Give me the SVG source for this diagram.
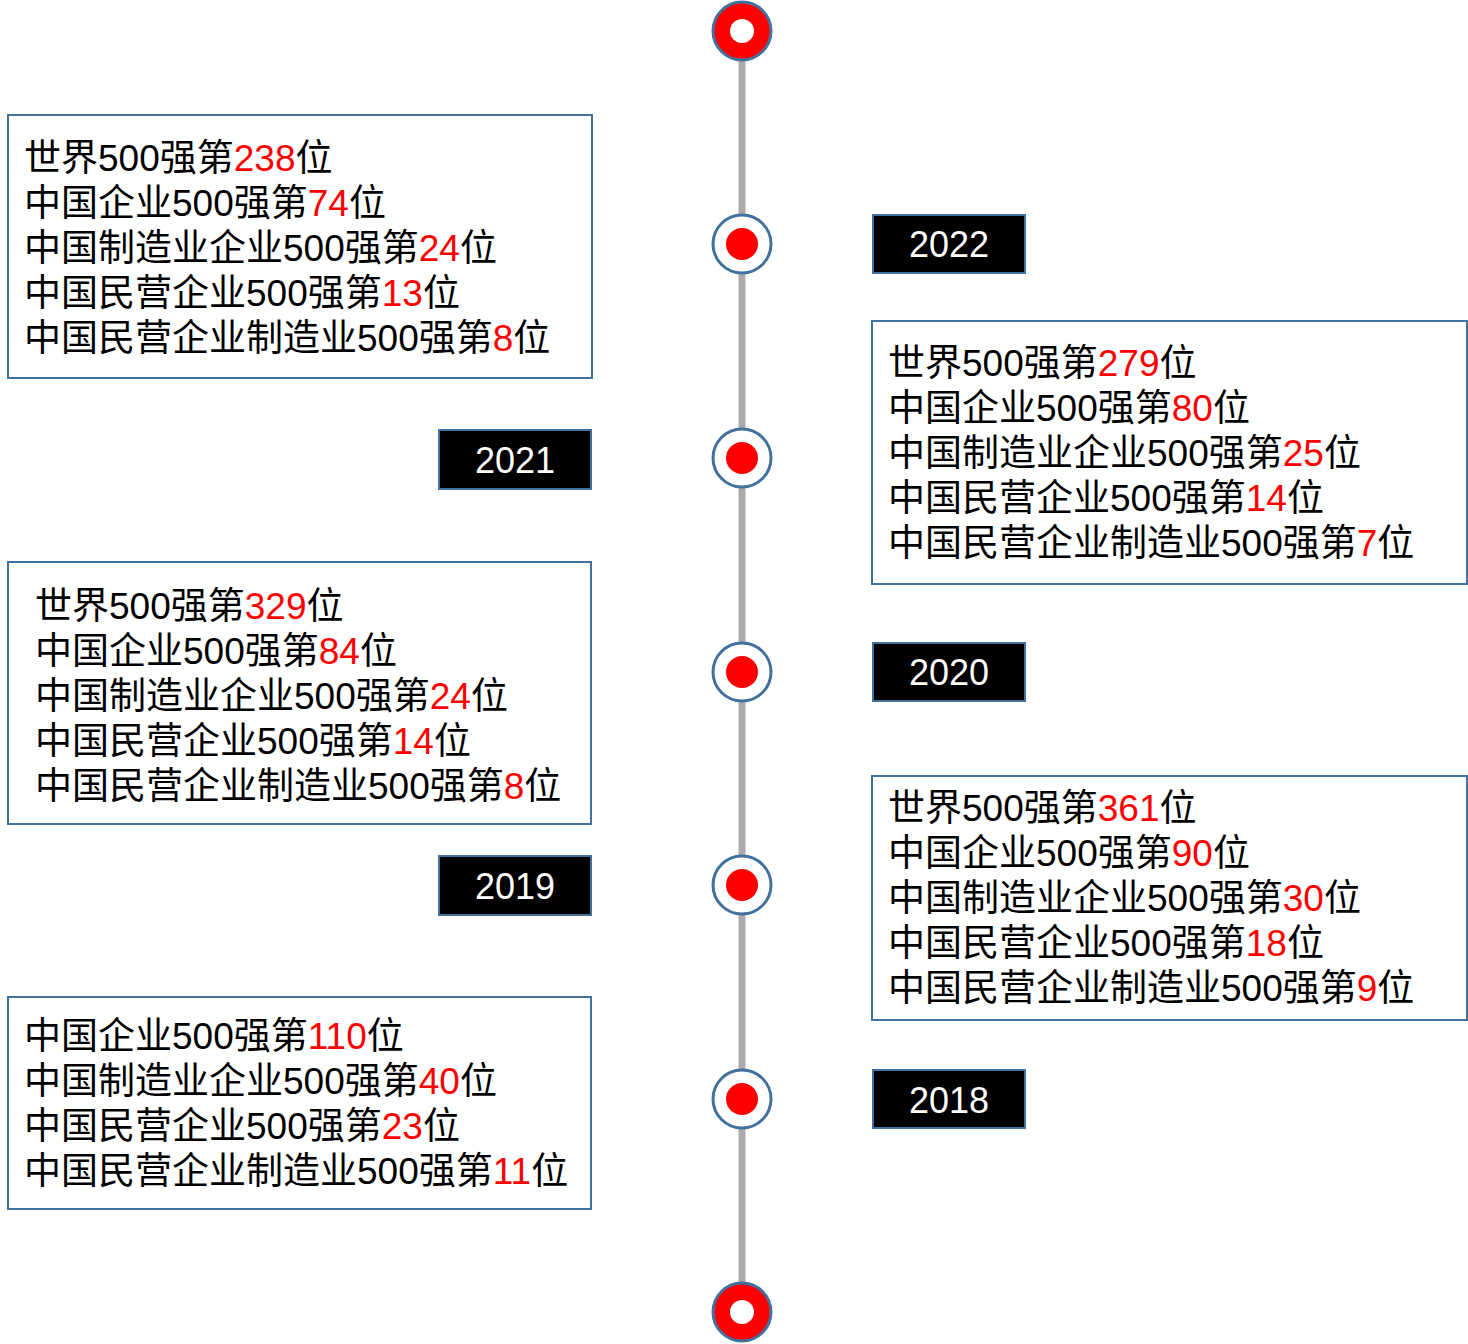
<svg xmlns="http://www.w3.org/2000/svg" width="1468" height="1344" viewBox="0 0 1468 1344">
<style>
.box{fill:#fff;stroke:#41719C;stroke-width:2}
.yr{fill:#000;stroke:#41719C;stroke-width:2}
.t{font-family:"Liberation Sans","Noto Sans CJK SC",sans-serif;font-size:37px;fill:#000}
.r{fill:#FF0000}
.y{font-family:"Liberation Sans","Noto Sans CJK SC",sans-serif;font-size:36px;fill:#fff;text-anchor:middle}
.end{fill:#FF0000;stroke:#41719C;stroke-width:3}
.mid{fill:#fff;stroke:#41719C;stroke-width:3}
.dot{fill:#FF0000}
</style>
<rect width="1468" height="1344" fill="#fff"/>
<g id="connectors">
<line x1="742" y1="58" x2="742" y2="1285" stroke="#AEAAAA" stroke-width="7"/>
</g>
<g id="top-end"><circle class="end" cx="742" cy="31" r="29"/><circle cx="742" cy="31" r="12" fill="#fff"/></g>
<g id="m2022"><circle class="mid" cx="742" cy="244" r="29"/><circle class="dot" cx="742" cy="244" r="16"/></g>
<g id="m2021"><circle class="mid" cx="742" cy="458" r="29"/><circle class="dot" cx="742" cy="458" r="16"/></g>
<g id="m2020"><circle class="mid" cx="742" cy="672" r="29"/><circle class="dot" cx="742" cy="672" r="16"/></g>
<g id="m2019"><circle class="mid" cx="742" cy="885" r="29"/><circle class="dot" cx="742" cy="885" r="16"/></g>
<g id="m2018"><circle class="mid" cx="742" cy="1099" r="29"/><circle class="dot" cx="742" cy="1099" r="16"/></g>
<g id="bottom-end"><circle class="end" cx="742" cy="1312" r="29"/><circle cx="742" cy="1312" r="12" fill="#fff"/></g>

<g id="y2022"><rect class="yr" x="873" y="215" width="152" height="58"/><text class="y" x="949" y="257">2022</text></g>
<g id="y2021"><rect class="yr" x="439" y="430" width="152" height="59"/><text class="y" x="515" y="473">2021</text></g>
<g id="y2020"><rect class="yr" x="873" y="643" width="152" height="58"/><text class="y" x="949" y="685">2020</text></g>
<g id="y2019"><rect class="yr" x="439" y="856" width="152" height="59"/><text class="y" x="515" y="899">2019</text></g>
<g id="y2018"><rect class="yr" x="873" y="1070" width="152" height="58"/><text class="y" x="949" y="1113">2018</text></g>

<g id="info2022">
<rect class="box" x="8" y="115" width="584" height="263"/>
<text class="t" x="24" y="171">世界500强第<tspan class="r">238</tspan>位</text>
<text class="t" x="24" y="216">中国企业500强第<tspan class="r">74</tspan>位</text>
<text class="t" x="24" y="261">中国制造业企业500强第<tspan class="r">24</tspan>位</text>
<text class="t" x="24" y="306">中国民营企业500强第<tspan class="r">13</tspan>位</text>
<text class="t" x="24" y="351">中国民营企业制造业500强第<tspan class="r">8</tspan>位</text>
</g>
<g id="info2021">
<rect class="box" x="872" y="321" width="595" height="263"/>
<text class="t" x="888" y="376">世界500强第<tspan class="r">279</tspan>位</text>
<text class="t" x="888" y="421">中国企业500强第<tspan class="r">80</tspan>位</text>
<text class="t" x="888" y="466">中国制造业企业500强第<tspan class="r">25</tspan>位</text>
<text class="t" x="888" y="511">中国民营企业500强第<tspan class="r">14</tspan>位</text>
<text class="t" x="888" y="556">中国民营企业制造业500强第<tspan class="r">7</tspan>位</text>
</g>
<g id="info2020">
<rect class="box" x="8" y="562" width="583" height="262"/>
<text class="t" x="35" y="619">世界500强第<tspan class="r">329</tspan>位</text>
<text class="t" x="35" y="664">中国企业500强第<tspan class="r">84</tspan>位</text>
<text class="t" x="35" y="709">中国制造业企业500强第<tspan class="r">24</tspan>位</text>
<text class="t" x="35" y="754">中国民营企业500强第<tspan class="r">14</tspan>位</text>
<text class="t" x="35" y="799">中国民营企业制造业500强第<tspan class="r">8</tspan>位</text>
</g>
<g id="info2019">
<rect class="box" x="872" y="776" width="595" height="244"/>
<text class="t" x="888" y="821">世界500强第<tspan class="r">361</tspan>位</text>
<text class="t" x="888" y="866">中国企业500强第<tspan class="r">90</tspan>位</text>
<text class="t" x="888" y="911">中国制造业企业500强第<tspan class="r">30</tspan>位</text>
<text class="t" x="888" y="956">中国民营企业500强第<tspan class="r">18</tspan>位</text>
<text class="t" x="888" y="1001">中国民营企业制造业500强第<tspan class="r">9</tspan>位</text>
</g>
<g id="info2018">
<rect class="box" x="8" y="997" width="583" height="212"/>
<text class="t" x="24" y="1049">中国企业500强第<tspan class="r">110</tspan>位</text>
<text class="t" x="24" y="1094">中国制造业企业500强第<tspan class="r">40</tspan>位</text>
<text class="t" x="24" y="1139">中国民营企业500强第<tspan class="r">23</tspan>位</text>
<text class="t" x="24" y="1184">中国民营企业制造业500强第<tspan class="r">11</tspan>位</text>
</g>
</svg>
